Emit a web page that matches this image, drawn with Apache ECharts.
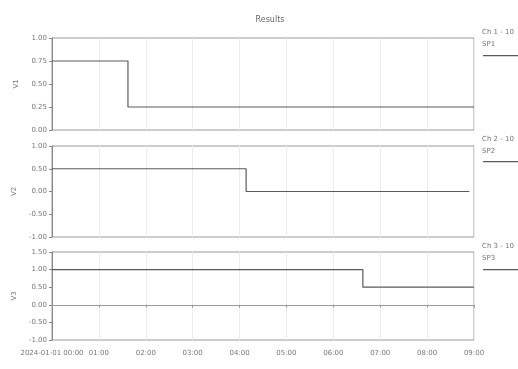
<!DOCTYPE html>
<html>
<head>
<meta charset="utf-8">
<script src="https://cdn.jsdelivr.net/npm/echarts@6/dist/echarts.min.js"></script>
<style>
  html, body { margin: 0; padding: 0; background: #fff; }
  #chart { width: 518px; height: 369px; }
</style>
</head>
<body>
<div id="chart"></div>
<script>
// x axis: tick positions and their labels
const xTicks = [0, 1, 2, 3, 4, 5, 6, 7, 8, 9];
const xLabels = ['2024-01-01 00:00', '01:00', '02:00', '03:00', '04:00', '05:00', '06:00', '07:00', '08:00', '09:00'];

// step series, [x, value] pairs where the value changes
const s1 = [[0, 0.75], [1.62, 0.25], [9, 0.25]];
const s2 = [[0, 0.5], [4.14, 0], [8.9, 0]];
const s3 = [[0, 1.0], [6.63, 0.5], [9, 0.5]];

// y tick values per panel
const y1Ticks = [0, 0.25, 0.5, 0.75, 1];
const y2Ticks = [-1, -0.5, 0, 0.5, 1];
const y3Ticks = [-1, -0.5, 0, 0.5, 1, 1.5];

const yNames = ['V1', 'V2', 'V3'];
const seriesNames = ['SP1', 'SP2', 'SP3'];
const headers = ['Ch 1 - 10', 'Ch 2 - 10', 'Ch 3 - 10'];

const chart = echarts.init(document.getElementById('chart'));

const txt = '#777';
const frame = '#9a9a9a';
const font = 'DejaVu Sans';

const grids = [
  { left: 52, right: 44, top: 38, height: 92 },
  { left: 52, right: 44, top: 146, height: 91 },
  { left: 52, right: 44, top: 252, height: 88 }
].map(g => Object.assign(g, { show: true, borderColor: frame, borderWidth: 1, backgroundColor: '#fff' }));

const ticks = [y1Ticks, y2Ticks, y3Ticks];
const data = [s1, s2, s3];
const legendTop = [50, 156, 264];
const headerTop = [24, 131, 238];

const xAxis = grids.map((g, i) => ({
  type: 'value',
  gridIndex: i,
  min: xTicks[0],
  max: xTicks[xTicks.length - 1],
  interval: 1,
  axisLine: { show: i === 2, lineStyle: { color: frame } },
  axisTick: { show: i === 2, length: 3, lineStyle: { color: frame } },
  axisLabel: {
    show: i === 2,
    color: txt,
    fontSize: 7,
    fontFamily: font,
    margin: 10,
    formatter: v => xLabels[xTicks.indexOf(v)] || ''
  },
  splitLine: { show: true, lineStyle: { color: '#ececec', width: 1 } }
}));

const yAxis = ticks.map((t, i) => ({
  type: 'value',
  gridIndex: i,
  min: t[0],
  max: t[t.length - 1],
  interval: t[1] - t[0],
  name: yNames[i],
  nameLocation: 'middle',
  nameGap: 32,
  nameTextStyle: { color: txt, fontSize: 7, fontFamily: font },
  axisLine: { show: true, lineStyle: { color: '#888' } },
  axisTick: { show: true, length: 3, lineStyle: { color: '#888' } },
  axisLabel: {
    color: txt,
    fontSize: 7,
    fontFamily: font,
    margin: 5,
    formatter: v => (Math.abs(v) < 1e-9 ? '0.00' : v.toFixed(2))
  },
  splitLine: { show: false }
}));

const series = data.map((d, i) => ({
  name: seriesNames[i],
  type: 'line',
  step: 'end',
  xAxisIndex: i,
  yAxisIndex: i,
  data: d,
  symbol: 'none',
  lineStyle: { color: '#5a5a5a', width: 1.2 },
  itemStyle: { color: '#5a5a5a' }
}));

const titles = [{
  text: 'Results',
  left: 265,
  top: 11,
  textAlign: 'center',
  textStyle: { color: '#666', fontSize: 8, fontWeight: 'normal', fontFamily: font }
}].concat(headers.map((h, i) => ({
  text: h,
  subtext: seriesNames[i],
  left: 477,
  top: headerTop[i],
  itemGap: 5,
  textStyle: { color: txt, fontSize: 7, fontWeight: 'normal', fontFamily: font },
  subtextStyle: { color: txt, fontSize: 7, fontFamily: font }
})));

const legends = seriesNames.map((n, i) => ({
  data: [n],
  left: 478,
  top: legendTop[i],
  icon: 'rect',
  itemWidth: 45,
  itemHeight: 1.2,
  formatter: () => '',
  selectedMode: false,
  textStyle: { fontSize: 1 }
}));

chart.setOption({
  animation: false,
  backgroundColor: '#fff',
  title: titles,
  legend: legends,
  grid: grids,
  xAxis: xAxis,
  yAxis: yAxis,
  series: series
});
</script>
</body>
</html>
